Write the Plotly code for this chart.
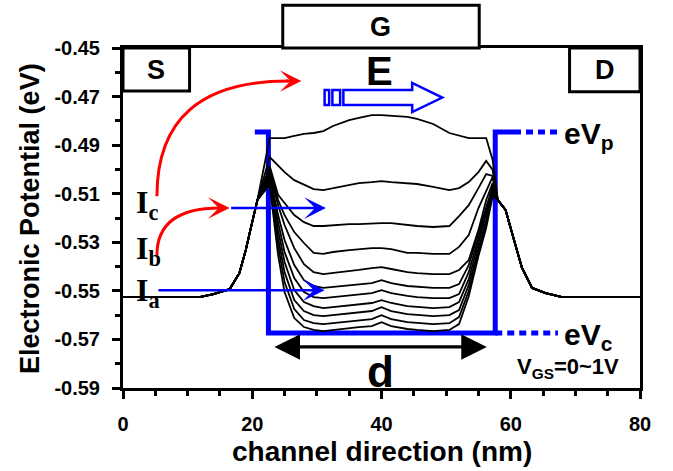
import plotly.graph_objects as go

# ---------------- data ----------------
# common source-side part (x in nm, potential in eV)
X_SRC = [0, 5, 10, 12, 14, 16.5, 18, 19, 19.6, 20.8]
Y_SRC = [-0.5525, -0.5525, -0.5525, -0.5525, -0.5513, -0.5493, -0.5427, -0.5332, -0.5262, -0.5126]

# channel part, one series per gate voltage (VGS = 0 ... 1 V)
X_CH = [22.7, 24.0, 25.0, 26.5, 28.0, 29.5, 31.0, 32.5, 35.0, 36.5, 38.5, 40.0,
        41.5, 44.0, 45.5, 48.0, 50.5, 52.0, 53.5, 55.0, 56.2, 57.2]
C1 = [-0.4871, -0.4871, -0.4871, -0.4862, -0.4854, -0.4850, -0.4842, -0.4821, -0.4797, -0.4788, -0.4776,
      -0.4776, -0.4780, -0.4784, -0.4792, -0.4813, -0.4850, -0.4862, -0.4871, -0.4871, -0.4871, -0.4961]
C2 = [-0.4949, -0.4982, -0.5011, -0.5044, -0.5064, -0.5081, -0.5085, -0.5077, -0.5064, -0.5056, -0.5052,
      -0.5048, -0.5052, -0.5056, -0.5060, -0.5072, -0.5085, -0.5077, -0.5052, -0.5011, -0.4965, -0.5002]
C3 = [-0.4986, -0.5105, -0.5138, -0.5188, -0.5217, -0.5233, -0.5233, -0.5229, -0.5225, -0.5225, -0.5221,
      -0.5221, -0.5221, -0.5229, -0.5233, -0.5237, -0.5233, -0.5192, -0.5147, -0.5077, -0.5019, -0.5027]
C4 = [-0.4998, -0.5126, -0.5188, -0.5258, -0.5303, -0.5344, -0.5348, -0.5340, -0.5332, -0.5328, -0.5324,
      -0.5324, -0.5328, -0.5344, -0.5344, -0.5348, -0.5348, -0.5319, -0.5270, -0.5159, -0.5085, -0.5031]
C5 = [-0.5011, -0.5147, -0.5229, -0.5324, -0.5390, -0.5423, -0.5431, -0.5427, -0.5418, -0.5414, -0.5406,
      -0.5402, -0.5410, -0.5423, -0.5427, -0.5431, -0.5431, -0.5414, -0.5373, -0.5250, -0.5126, -0.5056]
C6 = [-0.5023, -0.5188, -0.5291, -0.5394, -0.5456, -0.5480, -0.5488, -0.5484, -0.5476, -0.5472, -0.5468,
      -0.5456, -0.5468, -0.5480, -0.5484, -0.5488, -0.5488, -0.5472, -0.5394, -0.5258, -0.5155, -0.5068]
C7 = [-0.5031, -0.5217, -0.5340, -0.5447, -0.5505, -0.5526, -0.5530, -0.5526, -0.5517, -0.5513, -0.5509,
      -0.5497, -0.5509, -0.5521, -0.5526, -0.5530, -0.5530, -0.5513, -0.5423, -0.5283, -0.5175, -0.5077]
C8 = [-0.5040, -0.5250, -0.5381, -0.5497, -0.5546, -0.5563, -0.5571, -0.5567, -0.5558, -0.5554, -0.5550,
      -0.5538, -0.5550, -0.5563, -0.5567, -0.5571, -0.5567, -0.5546, -0.5452, -0.5303, -0.5192, -0.5085]
C9 = [-0.5048, -0.5283, -0.5423, -0.5538, -0.5583, -0.5600, -0.5604, -0.5600, -0.5591, -0.5587, -0.5583,
      -0.5567, -0.5583, -0.5596, -0.5600, -0.5604, -0.5600, -0.5579, -0.5476, -0.5324, -0.5208, -0.5093]
C10 = [-0.5056, -0.5315, -0.5464, -0.5575, -0.5620, -0.5633, -0.5637, -0.5633, -0.5625, -0.5620, -0.5616,
       -0.5600, -0.5616, -0.5629, -0.5633, -0.5637, -0.5633, -0.5608, -0.5501, -0.5340, -0.5225, -0.5101]
C11 = [-0.5064, -0.5353, -0.5505, -0.5612, -0.5649, -0.5661, -0.5666, -0.5661, -0.5653, -0.5649, -0.5645,
       -0.5629, -0.5645, -0.5657, -0.5661, -0.5666, -0.5661, -0.5637, -0.5522, -0.5357, -0.5241, -0.5110]
CURVES = [C1, C2, C3, C4, C5, C6, C7, C8, C9, C10, C11]

# common drain-side part
X_DRN = [58.0, 59.2, 60.5, 61.7, 63.3, 65.4, 67.8, 80]
Y_DRN = [-0.5126, -0.5167, -0.5291, -0.5402, -0.5488, -0.5509, -0.5525, -0.5525]

# schematic quantum-well band edges (eVp / eVc)
WELL_X = [20.4, 22.5, 22.5, 57.6, 57.6, 60.5]
WELL_Y = [-0.4846, -0.4846, -0.5674, -0.5674, -0.4846, -0.4846]
VP_DOT_X = [60.5, 67.7]
VP_DOT_Y = [-0.4846, -0.4846]
VC_DOT_X = [57.6, 67.3]
VC_DOT_Y = [-0.5674, -0.5674]

# axis ticks
X_TICKS = [0, 20, 40, 60, 80]
Y_TICKS = [-0.59, -0.57, -0.55, -0.53, -0.51, -0.49, -0.47, -0.45]
Y_TICK_TEXT = ["-0.59", "-0.57", "-0.55", "-0.53", "-0.51", "-0.49", "-0.47", "-0.45"]

# ---------------- figure ----------------
SANS = "Liberation Sans, Arial, sans-serif"
SERIF = "Liberation Serif, Times New Roman, serif"
BLUE = "#0000ff"
RED = "#ff0000"

fig = go.Figure()

fig.add_trace(go.Scatter(x=WELL_X, y=WELL_Y, mode="lines",
                         line=dict(color=BLUE, width=5), showlegend=False, hoverinfo="skip"))
fig.add_trace(go.Scatter(x=VP_DOT_X, y=VP_DOT_Y, mode="lines",
                         line=dict(color=BLUE, width=5, dash="7px,5px"), showlegend=False, hoverinfo="skip"))
fig.add_trace(go.Scatter(x=VC_DOT_X, y=VC_DOT_Y, mode="lines",
                         line=dict(color=BLUE, width=5, dash="7px,5px"), showlegend=False, hoverinfo="skip"))

for c in CURVES:
    fig.add_trace(go.Scatter(x=X_SRC + X_CH + X_DRN, y=Y_SRC + c + Y_DRN, mode="lines",
                             line=dict(color="black", width=1.8), showlegend=False))

shapes = []
box_line = dict(color="black", width=3)
# S and D boxes (inside the frame)
shapes.append(dict(type="rect", xref="x", yref="y", x0=0, x1=10.3, y0=-0.4677, y1=-0.45,
                   line=box_line, fillcolor="white", layer="above"))
shapes.append(dict(type="rect", xref="x", yref="y", x0=69.1, x1=80, y0=-0.468, y1=-0.45,
                   line=box_line, fillcolor="white", layer="above"))
# G box (above the frame)
shapes.append(dict(type="rect", xref="paper", yref="paper", x0=0.309, x1=0.689, y0=1.0, y1=1.126,
                   line=box_line, fillcolor="white", layer="above"))
# red curved arrows
shapes.append(dict(type="path", xref="x", yref="y",
                   path="M 5.25,-0.5110 Q 5.25,-0.4636 25.5,-0.4636",
                   line=dict(color=RED, width=3), layer="above"))
shapes.append(dict(type="path", xref="x", yref="y",
                   path="M 5.25,-0.5353 Q 5.25,-0.5159 15.0,-0.5159",
                   line=dict(color=RED, width=3), layer="above"))
# blue hollow "E" arrow with striped tail
shapes.append(dict(type="path", xref="x", yref="y",
                   path="M 34.1,-0.4673 L 44.75,-0.4673 L 44.75,-0.4644 L 49.4,-0.4704 "
                        "L 44.75,-0.4764 L 44.75,-0.4735 L 34.1,-0.4735 Z",
                   line=dict(color=BLUE, width=2.5), layer="above"))
shapes.append(dict(type="rect", xref="x", yref="y", x0=31.2, x1=31.9, y0=-0.4735, y1=-0.4673,
                   line=dict(color=BLUE, width=2.5), layer="above"))
shapes.append(dict(type="rect", xref="x", yref="y", x0=32.4, x1=33.6, y0=-0.4735, y1=-0.4673,
                   line=dict(color=BLUE, width=2.5), layer="above"))

ann = []
def text(x, y, s, size, xanchor="center", family=SANS, xref="x", yref="y", color="black"):
    ann.append(dict(x=x, y=y, xref=xref, yref=yref, text=s, showarrow=False,
                    xanchor=xanchor, yanchor="middle",
                    font=dict(family=family, size=size, color=color, weight="bold")))

text(5.15, -0.4589, "S", 27)
text(74.55, -0.4590, "D", 27)
text(0.499, 1.063, "G", 27, xref="paper", yref="paper")
text(39.7, -0.4595, "E", 40)
text(39.8, -0.5830, "d", 44)
text(68.0, -0.4860, "eV<sub>p</sub>", 30, xanchor="left")
text(68.0, -0.5688, "eV<sub>c</sub>", 30, xanchor="left")
text(60.6, -0.5816, "V<sub>GS</sub>=0~1V", 22, xanchor="left")
text(1.7, -0.5145, "I<sub>c</sub>", 32, xanchor="left", family=SERIF)
text(1.7, -0.5335, "I<sub>b</sub>", 32, xanchor="left", family=SERIF)
text(1.7, -0.5505, "I<sub>a</sub>", 32, xanchor="left", family=SERIF)

# axis titles
ann.append(dict(x=-0.18, y=0.5, xref="paper", yref="paper", text="Electronic Potential (eV)",
                textangle=-90, showarrow=False, xanchor="center", yanchor="middle",
                font=dict(family=SANS, size=27, color="black", weight="bold")))
ann.append(dict(x=0.5, y=-0.188, xref="paper", yref="paper", text="channel direction (nm)",
                showarrow=False, xanchor="center", yanchor="middle",
                font=dict(family=SANS, size=28, color="black", weight="bold")))

def arrow(x, y, ax, ay, color, width, size, head=3, both=False):
    d = dict(x=x, y=y, ax=ax, ay=ay, xref="x", yref="y", axref="x", ayref="y", text="",
             showarrow=True, arrowcolor=color, arrowwidth=width, arrowsize=size,
             arrowhead=head, standoff=0, startstandoff=0)
    if both:
        d.update(arrowside="end+start", startarrowhead=head, startarrowsize=size)
    ann.append(d)

arrow(27.6, -0.4636, 25.0, -0.4636, RED, 3, 1.2)
arrow(16.5, -0.5159, 14.5, -0.5159, RED, 3, 1.2)
arrow(31.4, -0.5159, 16.5, -0.5159, BLUE, 2.5, 1.45)
arrow(31.2, -0.5497, 5.25, -0.5497, BLUE, 2.5, 1.45)
arrow(56.3, -0.5731, 23.2, -0.5731, "black", 3.2, 1.6, head=2, both=True)

fig.update_layout(
    width=673, height=471,
    margin=dict(l=123, r=33, t=48, b=83),
    plot_bgcolor="white", paper_bgcolor="white",
    shapes=shapes, annotations=ann, showlegend=False,
    xaxis=dict(range=[0, 80], tickvals=X_TICKS, ticks="outside", ticklen=8, tickwidth=2.5,
               tickcolor="black", showline=True, linewidth=3, linecolor="black", mirror=True,
               showgrid=False, zeroline=False, ticklabelstandoff=8,
               tickfont=dict(family=SANS, size=20, color="black", weight="bold"),
               minor=dict(dtick=5, tick0=0, ticks="outside", ticklen=5, tickwidth=2.5,
                          tickcolor="black", showgrid=False)),
    yaxis=dict(range=[-0.59, -0.45], tickvals=Y_TICKS, ticktext=Y_TICK_TEXT, ticks="outside",
               ticklen=8, tickwidth=2.5, tickcolor="black", showline=True, linewidth=3,
               linecolor="black", mirror=True, showgrid=False, zeroline=False,
               ticklabelstandoff=8,
               tickfont=dict(family=SANS, size=20, color="black", weight="bold"),
               minor=dict(dtick=0.01, tick0=-0.59, ticks="outside", ticklen=5, tickwidth=2.5,
                          tickcolor="black", showgrid=False)),
)

fig.write_html("out.html")
